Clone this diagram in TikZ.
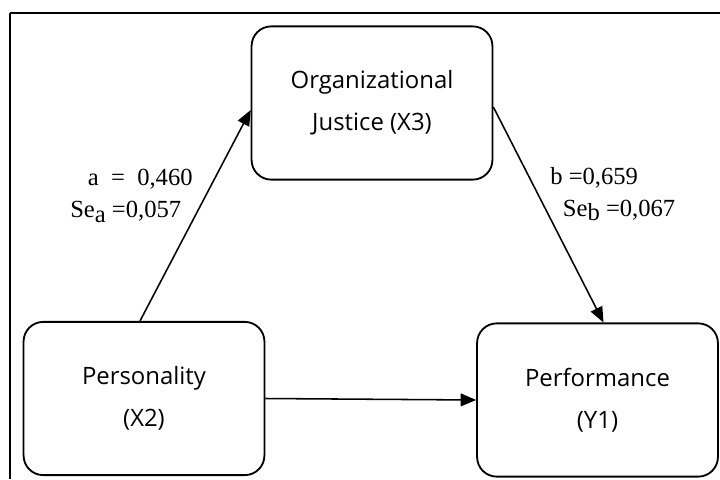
\documentclass[tikz,border=0pt]{standalone}
\usepackage{fontspec}
\setmainfont{Open Sans}
\newfontfamily\coeffont{Liberation Serif}
\usetikzlibrary{arrows.meta, positioning, calc}

\begin{document}
\begin{tikzpicture}[
  x=0.025cm, y=-0.025cm,
  every node/.style={text=black},
  varbox/.style={draw, rounded corners=14pt, line width=1.3pt,
    minimum width=6.02cm, minimum height=3.83cm,
    align=center, inner sep=4pt,
    font=\fontsize{17}{30}\selectfont},
  coef/.style={align=left, inner sep=0pt,
    font=\coeffont\fontsize{17.5}{22.7}\selectfont},
  path/.style={line width=1.1pt, -{Triangle[length=11pt, width=9pt]}},
]

\useasboundingbox (0,0) rectangle (720,479);

% Frame (top and left only)
\draw[line width=2pt] (10,13) -- (720,13);
\draw[line width=2pt] (10,13) -- (10,479);

% Organizational Justice — top center
\node[varbox] (orgjus) at (372,103)
  {Organizational\\Justice (X3)};

% Personality — bottom left
\node[varbox] (person) at (144,398.5)
  {Personality\\(X2)};

% Performance — bottom right
\node[varbox] (perform) at (597.5,400)
  {Performance\\(Y1)};

% Paths
\draw[path] ($(person.north)+(-4,0)$) -- ($(orgjus.west)+(0,7)$);
\draw[path] ($(orgjus.east)+(0,4)$) -- ($(perform.north)+(6,0)$);
\draw[path] (person.east) -- (perform.west);

% Coefficients
\node[coef, anchor=west] (coefa) at (70,196)
  {\hspace*{12.5pt}a \ = \ 0,460\\Se\raisebox{-.18em}{a} =0,057};
\node[coef, anchor=west] (coefb) at (550,194)
  {b =0,659\\\hspace*{9pt}Se\raisebox{-.18em}{b} =0,067};

\end{tikzpicture}
\end{document}
